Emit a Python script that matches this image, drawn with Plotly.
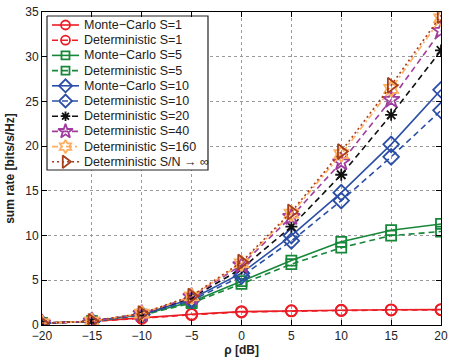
import plotly.graph_objects as go

rho_db = [-20, -15, -10, -5, 0, 5, 10, 15, 20]

mc_s1 = [0.2, 0.42, 0.8, 1.2, 1.5, 1.6, 1.65, 1.7, 1.72]
det_s1 = [0.18, 0.4, 0.75, 1.15, 1.45, 1.57, 1.62, 1.67, 1.7]
mc_s5 = [0.2, 0.42, 1.15, 2.6, 4.9, 7.2, 9.3, 10.6, 11.3]
det_s5 = [0.2, 0.4, 1.1, 2.45, 4.6, 6.8, 8.65, 10.0, 10.45]
mc_s10 = [0.2, 0.42, 1.2, 2.9, 5.8, 10.0, 14.8, 20.2, 26.3]
det_s10 = [0.2, 0.42, 1.15, 2.75, 5.45, 9.4, 13.9, 18.8, 24.0]
det_s20 = [0.2, 0.42, 1.25, 3.05, 6.3, 11.0, 16.8, 23.5, 30.7]
det_s40 = [0.2, 0.42, 1.25, 3.15, 6.7, 12.1, 18.2, 25.2, 32.9]
det_s160 = [0.2, 0.42, 1.28, 3.2, 6.9, 12.45, 19.1, 26.4, 34.3]
det_inf = [0.2, 0.42, 1.3, 3.25, 7.05, 12.65, 19.4, 26.8, 34.6]

x_ticks = [-20, -15, -10, -5, 0, 5, 10, 15, 20]
y_ticks = [0, 5, 10, 15, 20, 25, 30, 35]

names = ["Monte\u2212Carlo S=1", "Deterministic S=1", "Monte\u2212Carlo S=5",
         "Deterministic S=5", "Monte\u2212Carlo S=10", "Deterministic S=10",
         "Deterministic S=20", "Deterministic S=40", "Deterministic S=160",
         "Deterministic S/N \u2192 \u221e"]
series = [mc_s1, det_s1, mc_s5, det_s5, mc_s10, det_s10, det_s20, det_s40, det_s160, det_inf]

colors = ["#ec1c24", "#ec1c24", "#17873a", "#17873a", "#2c4fa6", "#2c4fa6",
          "#111111", "#a13c9f", "#ffad5c", "#a63d1b"]
DASH = "6px,4px"
dashes = ["solid", DASH, "solid", DASH, "solid", DASH, DASH, DASH,
          "6px,3px,2px,3px", "2px,3px"]
symbols = ["circle-open", "circle-open", "square-open", "square-open", "diamond-open",
           "diamond-open", "asterisk-open", "star-open", "hexagram-open", "triangle-right-open"]
sizes = [11, 11, 10, 10, 12, 12, 10, 13, 12, 13]
FONT = "Liberation Sans, Arial"

fig = go.Figure()
for nm, ys, c, d, s, sz in zip(names, series, colors, dashes, symbols, sizes):
    fig.add_trace(go.Scatter(
        x=rho_db, y=ys, name=nm, mode="lines+markers", showlegend=False,
        line=dict(color=c, dash=d, width=1.6),
        marker=dict(symbol=s, size=sz, color=c, line=dict(color=c, width=1.8)),
    ))

# compact legend drawn on an overlay axis measured in pixels of the plot area
LEG_X0, LEG_X1, LEG_Y0, LEG_Y1 = 5, 166, 4, 158
ROW0, ROW_STEP = 13, 15.2
fig.add_trace(go.Scatter(
    x=[LEG_X0, LEG_X1, LEG_X1, LEG_X0, LEG_X0], y=[LEG_Y0, LEG_Y0, LEG_Y1, LEG_Y1, LEG_Y0],
    xaxis="x2", yaxis="y2", mode="lines", fill="toself", fillcolor="white",
    line=dict(color="#222", width=1.2), showlegend=False, hoverinfo="skip"))
for i, (nm, c, d, s, sz) in enumerate(zip(names, colors, dashes, symbols, sizes)):
    yy = ROW0 + i * ROW_STEP
    fig.add_trace(go.Scatter(
        x=[10, 37], y=[yy, yy], xaxis="x2", yaxis="y2", mode="lines", showlegend=False,
        line=dict(color=c, dash=d, width=1.6), hoverinfo="skip"))
    fig.add_trace(go.Scatter(
        x=[23.5], y=[yy], xaxis="x2", yaxis="y2", mode="markers", showlegend=False,
        marker=dict(symbol=s, size=sz - 2, color=c, line=dict(color=c, width=1.8)),
        hoverinfo="skip"))
    fig.add_annotation(x=39.5, y=yy, xref="x2", yref="y2", text=nm, showarrow=False,
                       xanchor="left", yanchor="middle",
                       font=dict(family=FONT, size=12.5, color="#222"))

axis_common = dict(
    showline=True, linecolor="black", linewidth=1, mirror="ticks",
    ticks="inside", ticklen=5, tickcolor="black", automargin=False,
    showgrid=True, gridcolor="#9a9a9a", griddash="dot", gridwidth=1,
    zeroline=False, tickfont=dict(family=FONT, size=12, color="#222"),
)
fig.update_layout(
    xaxis=dict(range=[-20, 20], tickvals=x_ticks, ticktext=[str(v).replace("-", "\u2212") for v in x_ticks],
               title=dict(text="<b>\u03c1 [dB]</b>", font=dict(family=FONT, size=12, color="#222"), standoff=0),
               **axis_common),
    yaxis=dict(range=[0, 35], tickvals=y_ticks,
               title=dict(text="<b>sum rate [bits/s/Hz]</b>", font=dict(family=FONT, size=12, color="#222"), standoff=8),
               **axis_common),
    xaxis2=dict(range=[0, 399], overlaying="x", visible=False, fixedrange=True),
    yaxis2=dict(range=[313, 0], overlaying="y", visible=False, fixedrange=True),
    width=449, height=358,
    margin=dict(l=42, r=8, t=12, b=33),
    plot_bgcolor="white", paper_bgcolor="white",
    font=dict(family=FONT, size=12, color="#222"),
    showlegend=False,
)
fig.write_html("out.html", config={"displayModeBar": False},
               post_script="document.body.style.margin='0px';document.body.style.padding='0px';")
